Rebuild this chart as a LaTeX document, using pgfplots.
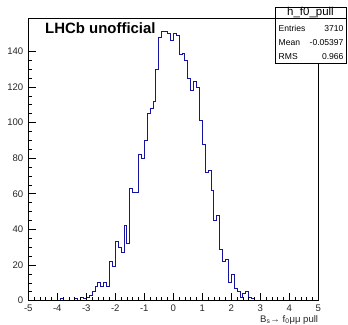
\documentclass[border=0pt]{standalone}
\usepackage{fontspec}
\setmainfont{Liberation Sans}
\usepackage{pgfplots}
\pgfplotsset{compat=1.18}
\definecolor{histblue}{RGB}{20,20,160}
\begin{document}
\begin{tikzpicture}[x=1bp,y=1bp]
\useasboundingbox (-28.3,-24.3) rectangle (319.7,300.7);
\begin{axis}[
  at={(0,0)}, anchor=south west,
  scale only axis, width=290bp, height=282.4bp,
  xmin=-5, xmax=5, ymin=0, ymax=158.55,
  xtick={-5,-4,...,5}, ytick={0,20,...,140},
  minor x tick num=4, minor y tick num=3,
  tick pos=left, tick align=inside,
  major tick length=8bp, minor tick length=4bp,
  axis on top,
  axis line style={line width=0.8bp},
  every tick/.style={black, line width=0.7bp},
  /pgf/number format/assume math mode=true,
  tick label style={font=\fontsize{9.6}{10}\selectfont, text=black!85},
  yticklabel style={xshift=-1.5bp},
  xticklabel style={yshift=-1bp},
]
\addplot[const plot, histblue, line width=0.9bp] coordinates {
(-5.0,0) (-4.9,0) (-4.8,0) (-4.7,0) (-4.6,0) (-4.5,0) (-4.4,0) (-4.3,0) (-4.2,0) (-4.1,0)
(-4.0,0) (-3.9,1) (-3.8,0) (-3.7,0) (-3.6,0) (-3.5,0) (-3.4,1) (-3.3,0) (-3.2,2) (-3.1,1)
(-3.0,2) (-2.9,3) (-2.8,5) (-2.7,8) (-2.6,10) (-2.5,8) (-2.4,10) (-2.3,8) (-2.2,22) (-2.1,19)
(-2.0,33) (-1.9,30) (-1.8,27) (-1.7,42) (-1.6,32) (-1.5,63) (-1.4,61) (-1.3,61) (-1.2,82) (-1.1,80)
(-1.0,90) (-0.9,105) (-0.8,108) (-0.7,112) (-0.6,130) (-0.5,148) (-0.4,151) (-0.3,151) (-0.2,150) (-0.1,146)
(0.0,150) (0.1,149) (0.2,138) (0.3,139) (0.4,135) (0.5,125) (0.6,118) (0.7,123) (0.8,120) (0.9,101)
(1.0,88) (1.1,72) (1.2,73) (1.3,62) (1.4,45) (1.5,48) (1.6,29) (1.7,22) (1.8,23) (1.9,10)
(2.0,15) (2.1,7) (2.2,5) (2.3,2) (2.4,4) (2.5,5) (2.6,2) (2.7,1) (2.8,0) (2.9,0)
(3.0,0) (3.1,0) (3.2,0) (3.3,0) (3.4,0) (3.5,0) (3.6,0) (3.7,0) (3.8,0) (3.9,0)
(4.0,0) (4.1,0) (4.2,0) (4.3,0) (4.4,0) (4.5,0) (4.6,0) (4.7,0) (4.8,0) (4.9,0)
(5.0,0)
};
\end{axis}
% LHCb label
\node[anchor=base west, inner sep=0pt, font=\fontsize{15}{15}\selectfont\bfseries] at (16.7,267.4) {LHCb unofficial};
% x axis title
\node[anchor=base east, inner sep=0pt, font=\fontsize{9.6}{10}\selectfont, text=black!85] at (290,-21.3) {B\textsubscript{s}→ f\textsubscript{0}μμ pull};
% stats box
\filldraw[fill=white, draw=black, line width=0.8bp] (246.7,237.4) rectangle (317.7,293.4);
\draw[line width=0.6bp] (246.7,282.4) -- (317.7,282.4);
\node[inner sep=0pt, font=\fontsize{11.5}{12}\selectfont] at (282.2,287.8) {h\_f0\_pull};
\node[anchor=west, inner sep=0pt, font=\fontsize{8.6}{9}\selectfont] at (250.2,272.4) {Entries};
\node[anchor=east, inner sep=0pt, font=\fontsize{8.6}{9}\selectfont] at (315.4,272.4) {3710};
\node[anchor=west, inner sep=0pt, font=\fontsize{8.6}{9}\selectfont] at (250.2,258.4) {Mean};
\node[anchor=east, inner sep=0pt, font=\fontsize{8.6}{9}\selectfont] at (315.4,258.4) {-0.05397};
\node[anchor=west, inner sep=0pt, font=\fontsize{8.6}{9}\selectfont] at (250.2,244.0) {RMS};
\node[anchor=east, inner sep=0pt, font=\fontsize{8.6}{9}\selectfont] at (315.4,244.0) {0.966};
\end{tikzpicture}
\end{document}
